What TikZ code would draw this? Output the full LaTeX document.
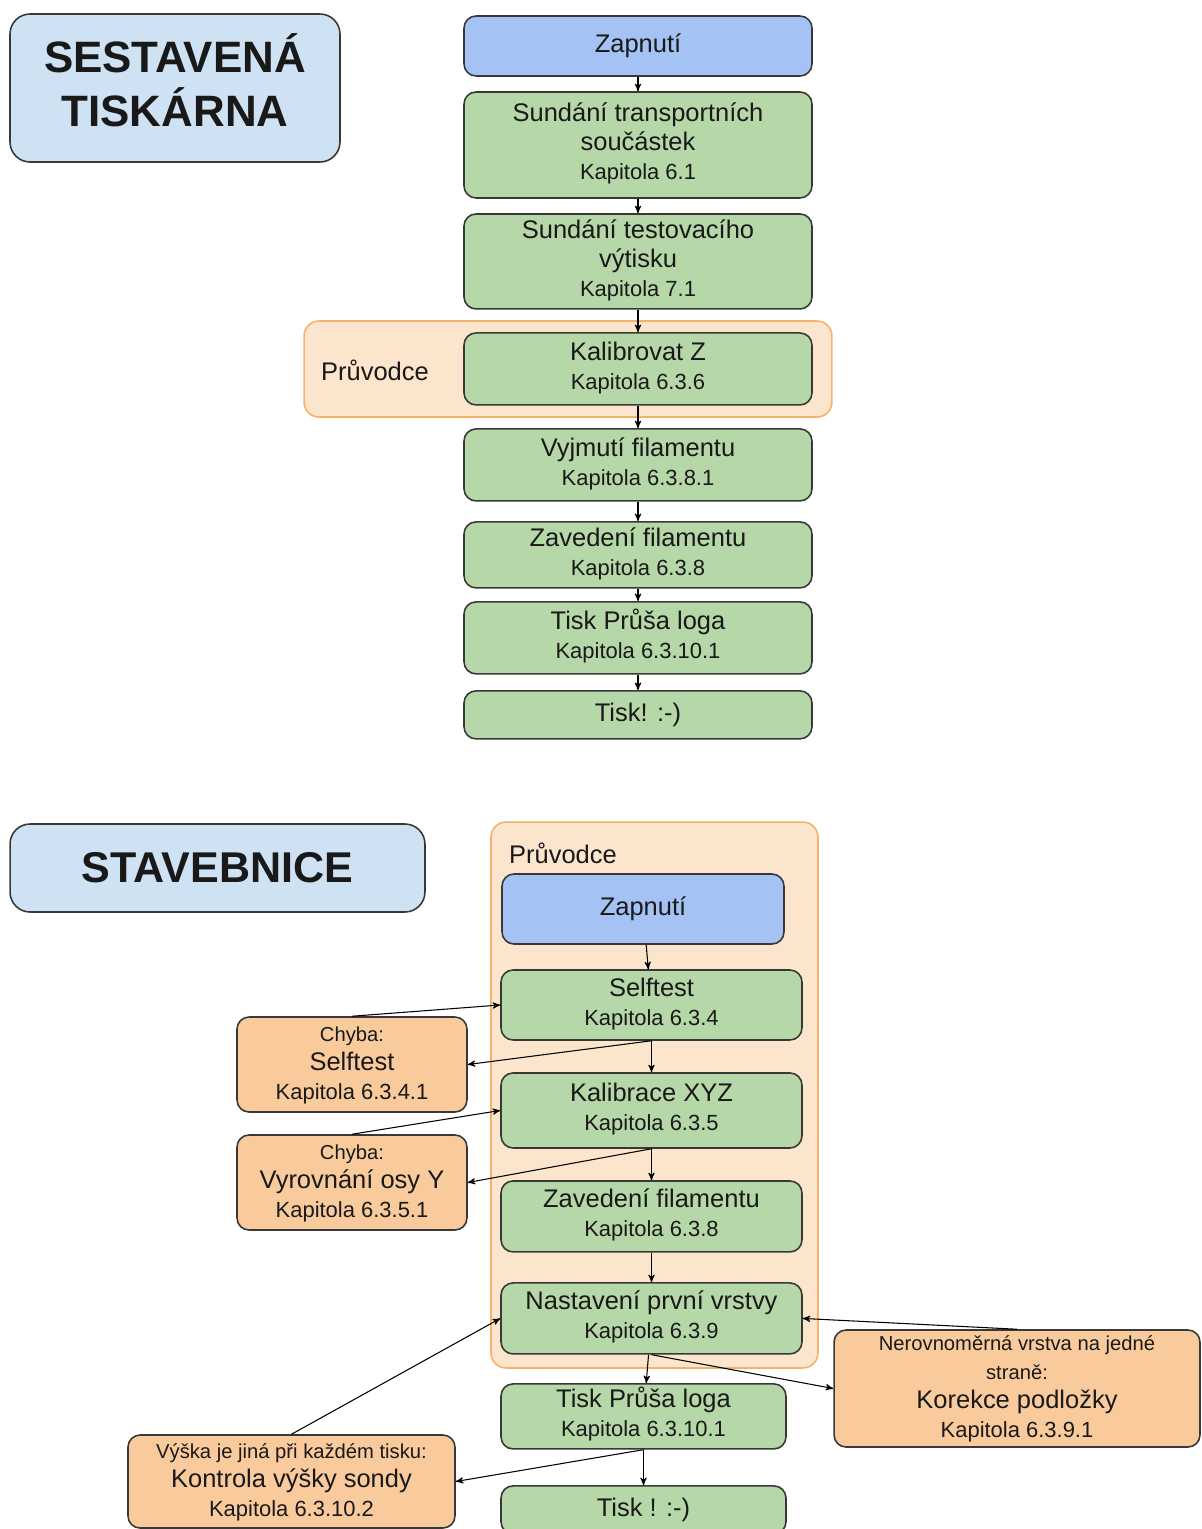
\documentclass[tikz,border=0pt]{standalone}
\usepackage{fontspec}
\setmainfont{Liberation Sans}
\usepackage{tikz}
\usetikzlibrary{arrows}
\usetikzlibrary{positioning}
\definecolor{modra}{HTML}{A4C2F4}
\definecolor{svetlemodra}{HTML}{CFE2F3}
\definecolor{zelena}{HTML}{B6D7A8}
\definecolor{oranzova}{HTML}{F9CB9C}
\definecolor{pruvodcefill}{HTML}{FCE5CD}
\definecolor{pruvodcedraw}{HTML}{F6B26B}
\definecolor{okraj}{HTML}{383838}
\newcommand{\kap}{\fontsize{12.5}{15}\selectfont}
\newcommand{\mala}{\fontsize{11.5}{14}\selectfont}
\tikzset{
    krok/.style={
           rectangle,
           rounded corners=0.24cm,
           draw=okraj, line width=0.9pt,
           fill=zelena,
           inner sep=0pt,
           text=black!90,
           text centered,
           font=\fontsize{14.5}{16.5}\selectfont,
           },
    zapnuti/.style={krok, fill=modra},
    chyba/.style={krok, fill=oranzova},
    nadpis/.style={krok, fill=svetlemodra, rounded corners=0.4cm,
           font=\fontsize{25}{30}\selectfont\bfseries},
    pruvodce/.style={
           rectangle,
           rounded corners=0.3cm,
           draw=pruvodcedraw, line width=0.9pt,
           fill=pruvodcefill,
           inner sep=0pt,
           },
}

\begin{document}
\begin{tikzpicture}[->,>=stealth',x=0.02cm,y=-0.02cm,line width=0.6pt]
        \clip (0,0) rectangle (1202,1529);

        % SESTAVENA TISKARNA
        \node[nadpis, minimum width=6.6cm, minimum height=2.96cm] (SESTAVENA) at (175,88)
        {\begin{tabular}{c}
            SESTAVENÁ\\
            TISKÁRNA
        \end{tabular}};

        % PRUVODCE (kolem Kalibrovat Z)
        \node[pruvodce, minimum width=10.56cm, minimum height=1.92cm] (PRUVODCE1) at (568,369) {};
        \node[font=\fontsize{14.5}{16.5}\selectfont, text=black!90] (PRUVODCE1_TXT) at (375,370) {Průvodce};

        % KROK ZAPNUTI
        \node[zapnuti, minimum width=6.96cm, minimum height=1.2cm] (ZAPNUTI1) at (638,46) {Zapnutí};

        % KROK TRANSPORTNI SOUCASTKY
        \node[krok,
            minimum width=6.96cm, minimum height=2.12cm,
            below of=ZAPNUTI1,
            node distance=1.98cm,
            anchor=center] (TRANSPORT)
        {\begin{tabular}{c}
            Sundání transportních\\
            součástek\\
            \kap Kapitola 6.1
        \end{tabular}};

        % KROK TESTOVACI VYTISK
        \node[krok,
            minimum width=6.96cm, minimum height=1.9cm,
            below of=TRANSPORT,
            node distance=2.33cm,
            anchor=center] (VYTISK)
        {\begin{tabular}{c}
            Sundání testovacího\\
            výtisku\\
            \kap Kapitola 7.1
        \end{tabular}};

        % KROK KALIBROVAT Z
        \node[krok,
            minimum width=6.96cm, minimum height=1.44cm,
            below of=VYTISK,
            node distance=2.15cm,
            anchor=center] (KALIB_Z)
        {\begin{tabular}{c}
            Kalibrovat Z\\
            \kap Kapitola 6.3.6
        \end{tabular}};

        % KROK VYJMUTI FILAMENTU
        \node[krok,
            minimum width=6.96cm, minimum height=1.44cm,
            below of=KALIB_Z,
            node distance=1.92cm,
            anchor=center] (VYJMUTI)
        {\begin{tabular}{c}
            Vyjmutí filamentu\\
            \kap Kapitola 6.3.8.1
        \end{tabular}};

        % KROK ZAVEDENI FILAMENTU
        \node[krok,
            minimum width=6.96cm, minimum height=1.32cm,
            below of=VYJMUTI,
            node distance=1.8cm,
            anchor=center] (ZAVEDENI1)
        {\begin{tabular}{c}
            Zavedení filamentu\\
            \kap Kapitola 6.3.8
        \end{tabular}};

        % KROK LOGO
        \node[krok,
            minimum width=6.96cm, minimum height=1.44cm,
            below of=ZAVEDENI1,
            node distance=1.66cm,
            anchor=center] (LOGO1)
        {\begin{tabular}{c}
            Tisk Průša loga\\
            \kap Kapitola 6.3.10.1
        \end{tabular}};

        % KROK TISK
        \node[krok,
            minimum width=6.96cm, minimum height=0.96cm,
            below of=LOGO1,
            node distance=1.54cm,
            anchor=center] (TISK1) {Tisk! :-)};

        \path
        (ZAPNUTI1)  edge (TRANSPORT)
        (TRANSPORT) edge (VYTISK)
        (VYTISK)    edge (KALIB_Z)
        (KALIB_Z)   edge (VYJMUTI)
        (VYJMUTI)   edge (ZAVEDENI1)
        (ZAVEDENI1) edge (LOGO1)
        (LOGO1)     edge (TISK1)
        ;

        % STAVEBNICE
        \node[nadpis, minimum width=8.3cm, minimum height=1.76cm,
            font=\fontsize{24.5}{29}\selectfont\bfseries] (STAVEBNICE) at (217.5,868) {STAVEBNICE};

        % PRUVODCE (stavebnice)
        \node[pruvodce, minimum width=6.54cm, minimum height=10.92cm] (PRUVODCE2) at (654.5,1095) {};
        \node[font=\fontsize{14.5}{16.5}\selectfont, text=black!90] (PRUVODCE2_TXT) at (563,853) {Průvodce};

        % KROK ZAPNUTI
        \node[zapnuti, minimum width=5.64cm, minimum height=1.4cm] (ZAPNUTI2) at (643,909) {Zapnutí};

        % KROK SELFTEST
        \node[krok,
            minimum width=6.02cm, minimum height=1.4cm,
            below of=ZAPNUTI2,
            xshift=0.17cm,
            node distance=1.92cm,
            anchor=center] (SELFTEST)
        {\begin{tabular}{c}
            Selftest\\
            \kap Kapitola 6.3.4
        \end{tabular}};

        % KROK KALIBRACE XYZ
        \node[krok,
            minimum width=6.02cm, minimum height=1.5cm,
            below of=SELFTEST,
            node distance=2.11cm,
            anchor=center] (KALIB_XYZ)
        {\begin{tabular}{c}
            Kalibrace XYZ\\
            \kap Kapitola 6.3.5
        \end{tabular}};

        % KROK ZAVEDENI FILAMENTU
        \node[krok,
            minimum width=6.02cm, minimum height=1.42cm,
            below of=KALIB_XYZ,
            node distance=2.12cm,
            anchor=center] (ZAVEDENI2)
        {\begin{tabular}{c}
            Zavedení filamentu\\
            \kap Kapitola 6.3.8
        \end{tabular}};

        % KROK PRVNI VRSTVA
        \node[krok,
            minimum width=6.02cm, minimum height=1.42cm,
            below of=ZAVEDENI2,
            node distance=2.04cm,
            anchor=center] (VRSTVA)
        {\begin{tabular}{c}
            Nastavení první vrstvy\\
            \kap Kapitola 6.3.9
        \end{tabular}};

        % KROK LOGO
        \node[krok,
            minimum width=5.7cm, minimum height=1.3cm,
            below of=VRSTVA,
            xshift=-0.16cm,
            node distance=1.96cm,
            anchor=center] (LOGO2)
        {\begin{tabular}{c}
            Tisk Průša loga\\
            \kap Kapitola 6.3.10.1
        \end{tabular}};

        % KROK TISK
        \node[krok,
            minimum width=5.7cm, minimum height=0.96cm,
            below of=LOGO2,
            node distance=1.87cm,
            anchor=center] (TISK2) {Tisk ! :-)};

        % CHYBY
        \node[chyba, minimum width=4.6cm, minimum height=1.9cm] (CHYBA_SELFTEST) at (352,1064.5)
        {\begin{tabular}{c}
            \mala Chyba:\\
            Selftest\\
            \kap Kapitola 6.3.4.1
        \end{tabular}};

        \node[chyba, minimum width=4.6cm, minimum height=1.9cm] (CHYBA_OSA_Y) at (352,1182.5)
        {\begin{tabular}{c}
            \mala Chyba:\\
            Vyrovnání osy Y\\
            \kap Kapitola 6.3.5.1
        \end{tabular}};

        \node[chyba, minimum width=6.54cm, minimum height=1.86cm] (SONDA) at (291.5,1481.5)
        {\begin{tabular}{c}
            \mala Výška je jiná při každém tisku:\\
            Kontrola výšky sondy\\
            \kap Kapitola 6.3.10.2
        \end{tabular}};

        \node[chyba, minimum width=7.32cm, minimum height=2.34cm] (PODLOZKA) at (1017,1388.5)
        {\begin{tabular}{c}
            \mala Nerovnoměrná vrstva na jedné\\
            \mala straně:\\
            Korekce podložky\\
            \kap Kapitola 6.3.9.1
        \end{tabular}};

        \path
        (ZAPNUTI2)  edge (SELFTEST)
        (SELFTEST)  edge (KALIB_XYZ)
        (KALIB_XYZ) edge (ZAVEDENI2)
        (ZAVEDENI2) edge (VRSTVA)
        (VRSTVA)    edge (LOGO2)
        (LOGO2)     edge (TISK2)
        (SELFTEST.south)       edge (CHYBA_SELFTEST.east)
        (CHYBA_SELFTEST.north) edge (SELFTEST.west)
        (KALIB_XYZ.south)      edge (CHYBA_OSA_Y.east)
        (CHYBA_OSA_Y.north)    edge (KALIB_XYZ.west)
        (VRSTVA.south)         edge (PODLOZKA.west)
        (PODLOZKA.north)       edge (VRSTVA.east)
        (SONDA.north)          edge (VRSTVA.west)
        (LOGO2.south)          edge (SONDA.east)
        ;

\end{tikzpicture}
\end{document}
